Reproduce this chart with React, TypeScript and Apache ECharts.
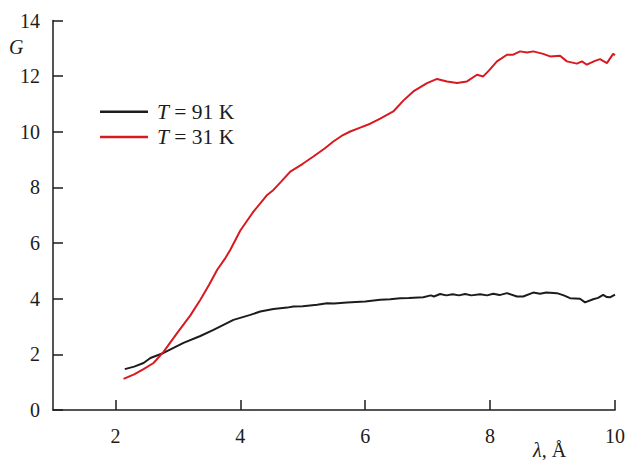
import React, { useEffect, useRef } from "react";
import * as echarts from "echarts";

const xTicks = [2, 4, 6, 8, 10];

const series91Name = "T = 91 K";
const series31Name = "T = 31 K";

const x91 = [2.15, 2.3, 2.45, 2.56, 2.77, 3.09, 3.36, 3.57, 3.89, 4.16, 4.32, 4.53, 4.75, 4.85, 5.0, 5.23, 5.39, 5.5, 5.71, 5.85, 6.0, 6.24, 6.4, 6.56, 6.7, 6.93, 7.05, 7.1, 7.2, 7.3, 7.4, 7.5, 7.6, 7.7, 7.84, 7.95, 8.05, 8.15, 8.27, 8.43, 8.53, 8.69, 8.8, 8.9, 9.07, 9.18, 9.28, 9.44, 9.52, 9.65, 9.73, 9.81, 9.87, 9.92, 10.0];
const y91 = [1.47, 1.56, 1.69, 1.87, 2.05, 2.41, 2.66, 2.88, 3.24, 3.42, 3.54, 3.63, 3.68, 3.72, 3.73, 3.78, 3.84, 3.83, 3.86, 3.88, 3.9, 3.96, 3.98, 4.02, 4.03, 4.05, 4.12, 4.08, 4.17, 4.12, 4.16, 4.12, 4.17, 4.12, 4.16, 4.12, 4.18, 4.13, 4.2, 4.08, 4.08, 4.22, 4.18, 4.22, 4.2, 4.12, 4.02, 4.0, 3.87, 3.98, 4.03, 4.14, 4.06, 4.05, 4.15];

const x31 = [2.13, 2.3, 2.45, 2.61, 2.77, 2.99, 3.2, 3.36, 3.5, 3.63, 3.76, 3.84, 4.0, 4.2, 4.43, 4.53, 4.65, 4.8, 5.0, 5.17, 5.35, 5.49, 5.62, 5.76, 5.92, 6.08, 6.24, 6.45, 6.61, 6.77, 6.99, 7.15, 7.31, 7.47, 7.63, 7.79, 7.89, 7.98, 8.11, 8.27, 8.37, 8.48, 8.59, 8.69, 8.85, 8.96, 9.12, 9.23, 9.39, 9.47, 9.55, 9.6, 9.68, 9.76, 9.87, 9.97, 10.0];
const y31 = [1.12, 1.28, 1.47, 1.69, 2.09, 2.77, 3.4, 3.96, 4.5, 5.04, 5.46, 5.76, 6.45, 7.1, 7.73, 7.91, 8.2, 8.57, 8.85, 9.11, 9.4, 9.65, 9.85, 10.01, 10.15, 10.29, 10.47, 10.73, 11.12, 11.45, 11.75, 11.9, 11.81, 11.75, 11.81, 12.05, 11.99, 12.2, 12.53, 12.77, 12.77, 12.89, 12.85, 12.89, 12.8, 12.71, 12.73, 12.53, 12.45, 12.53, 12.41, 12.47, 12.55, 12.61, 12.47, 12.8, 12.75];

const FONT = "'Liberation Serif', 'DejaVu Serif', serif";
const BLACK = "#1c1c1c";
const RED = "#d71920";
const FS = 20;
const LFS = 21.5;

export default function App() {
  const ref = useRef<HTMLDivElement>(null);
  useEffect(() => {
    const chart = echarts.init(ref.current!, undefined, { renderer: "svg" });
    chart.setOption({
      animation: false,
      backgroundColor: "#ffffff",
      grid: { left: 53, right: 12.5, top: 20.5, bottom: 50 },
      legend: {
        orient: "vertical",
        left: 95,
        top: 95.7,
        icon: "rect",
        itemWidth: 48,
        itemHeight: 2.5,
        itemGap: 3.3,
        data: [series91Name, series31Name],
        formatter: (name: string) => "{i|T} " + name.slice(2),
        textStyle: {
          fontFamily: FONT,
          fontSize: LFS,
          lineHeight: 20,
          color: BLACK,
          padding: [0, 0, 0, 4],
          rich: {
            i: { fontFamily: FONT, fontSize: LFS, lineHeight: 20, fontStyle: "italic", color: BLACK },
          },
        },
      },
      xAxis: {
        type: "value",
        min: 1,
        max: 10,
        axisLine: { show: true, onZero: false, lineStyle: { color: BLACK, width: 1.5 } },
        axisTick: { show: true, inside: true, length: 10, customValues: xTicks, lineStyle: { color: BLACK, width: 1.5 } },
        axisLabel: { customValues: xTicks, fontFamily: FONT, fontSize: FS, color: BLACK, margin: 16 },
        splitLine: { show: false },
      },
      yAxis: {
        type: "value",
        min: 0,
        max: 14,
        interval: 2,
        axisLine: { show: true, onZero: false, lineStyle: { color: BLACK, width: 1.5 } },
        axisTick: { show: true, inside: true, length: 10, lineStyle: { color: BLACK, width: 1.5 } },
        axisLabel: { fontFamily: FONT, fontSize: FS, color: BLACK, margin: 13 },
        splitLine: { show: false },
      },
      graphic: [
        {
          type: "text",
          left: 9,
          top: 37,
          style: { text: "G", fontFamily: FONT, fontSize: FS, fontStyle: "italic", fill: BLACK },
        },
        {
          type: "text",
          left: 533,
          top: 440,
          style: {
            text: "{i|λ}, Å",
            fontFamily: FONT,
            fontSize: FS,
            fill: BLACK,
            rich: { i: { fontFamily: FONT, fontSize: FS, fontStyle: "italic", fill: BLACK } },
          },
        },
      ],
      series: [
        {
          name: series91Name,
          type: "line",
          symbol: "none",
          smooth: false,
          lineStyle: { color: BLACK, width: 2 },
          itemStyle: { color: BLACK },
          data: x91.map((x, i) => [x, y91[i]]),
        },
        {
          name: series31Name,
          type: "line",
          symbol: "none",
          smooth: false,
          lineStyle: { color: RED, width: 2 },
          itemStyle: { color: RED },
          data: x31.map((x, i) => [x, y31[i]]),
        },
      ],
    });
    return () => chart.dispose();
  }, []);
  return <div ref={ref} style={{ width: 628, height: 460, position: "absolute", left: 0, top: 0 }} />;
}
